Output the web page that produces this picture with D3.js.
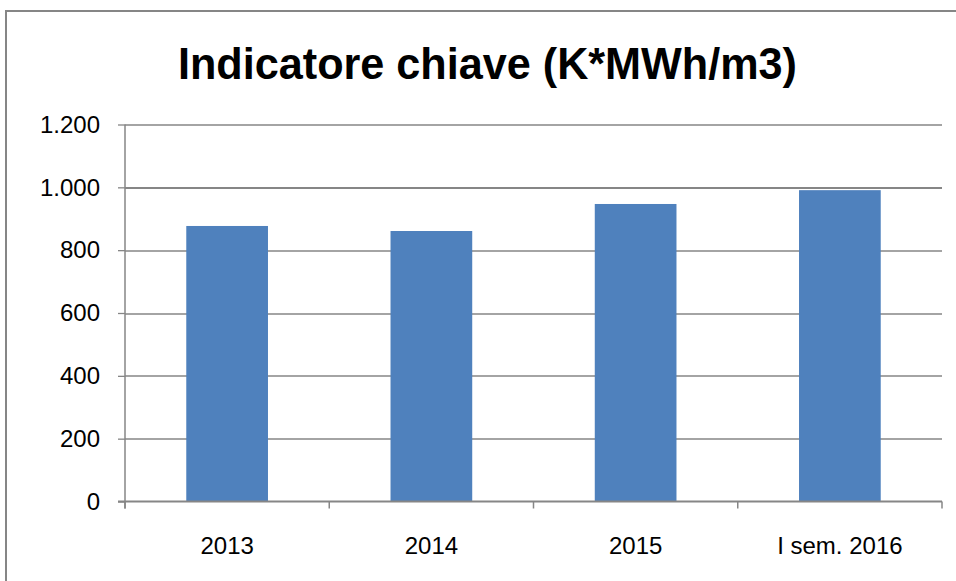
<!DOCTYPE html>
<html lang="it">
<head>
<meta charset="UTF-8">
<title>Indicatore chiave</title>
<script src="https://d3js.org/d3.v7.min.js"></script>
<style>
  body { margin: 0; background: #fff; }
  svg { display: block; font-family: "Liberation Sans", Arial, sans-serif; }
</style>
</head>
<body>
<div id="chart"></div>
<script>
// dati
var categories = ["2013", "2014", "2015", "I sem. 2016"];
var values = [877, 861, 947, 991];
var yTicks = [0, 200, 400, 600, 800, 1000, 1200];
var yTickLabels = ["0", "200", "400", "600", "800", "1.000", "1.200"];

var width = 956, height = 581;
var margin = {top: 124.5, right: 14, bottom: 79.5, left: 125};
var plotW = width - margin.left - margin.right;
var plotH = height - margin.top - margin.bottom;
var grey = "#868686";

var svg = d3.select("#chart").append("svg")
    .attr("width", width)
    .attr("height", height);

// cornice esterna
svg.append("rect")
    .attr("x", 6).attr("y", 11)
    .attr("width", width + 20).attr("height", height + 20)
    .attr("fill", "none")
    .attr("stroke", grey)
    .attr("stroke-width", 2);

svg.append("text")
    .attr("x", 487.5)
    .attr("y", 79)
    .attr("text-anchor", "middle")
    .attr("font-size", 45)
    .attr("font-weight", "bold")
    .attr("textLength", 619)
    .attr("lengthAdjust", "spacingAndGlyphs")
    .attr("fill", "#000")
    .text("Indicatore chiave (K*MWh/m3)");

var g = svg.append("g")
    .attr("transform", "translate(" + margin.left + "," + margin.top + ")");

var x = d3.scaleBand()
    .domain(categories)
    .range([0, plotW])
    .paddingInner(0.6)
    .paddingOuter(0.3);

var y = d3.scaleLinear()
    .domain([0, 1200])
    .range([plotH, 0]);

// griglia
g.selectAll(".grid")
    .data(yTicks.slice(1))
    .enter()
    .append("line")
    .attr("x1", 0)
    .attr("x2", plotW)
    .attr("y1", function(d) { return Math.round(y(d)) + 0.5; })
    .attr("y2", function(d) { return Math.round(y(d)) + 0.5; })
    .attr("stroke", grey)
    .attr("stroke-width", function(d) { return d === 1000 ? 2 : 1.3; });

g.selectAll(".bar")
    .data(values)
    .enter()
    .append("rect")
    .attr("x", function(d, i) { return x(categories[i]); })
    .attr("y", function(d) { return y(d); })
    .attr("width", x.bandwidth())
    .attr("height", function(d) { return plotH - y(d); })
    .attr("fill", "#4F81BD");

// asse y
var yAxis = g.append("g")
    .call(d3.axisLeft(y)
        .tickValues(yTicks)
        .tickSize(7)
        .tickPadding(18)
        .tickFormat(function(d, i) { return yTickLabels[i]; }));
yAxis.select(".domain").remove();
yAxis.selectAll(".tick line").attr("stroke", grey).attr("stroke-width", 1.3);
yAxis.selectAll("text").attr("font-size", 24).attr("fill", "#000")
    .attr("font-family", "Liberation Sans, Arial, sans-serif");
g.append("line")
    .attr("x1", 0).attr("x2", 0)
    .attr("y1", 0).attr("y2", plotH + 7)
    .attr("stroke", grey).attr("stroke-width", 1.5);

// asse x
var xAxis = g.append("g")
    .attr("transform", "translate(0," + plotH + ")")
    .call(d3.axisBottom(x).tickSize(0).tickPadding(35));
xAxis.select(".domain").remove();
xAxis.selectAll("text").attr("font-size", 24).attr("fill", "#000")
    .attr("font-family", "Liberation Sans, Arial, sans-serif");
g.append("line")
    .attr("x1", -7).attr("x2", plotW)
    .attr("y1", plotH).attr("y2", plotH)
    .attr("stroke", grey).attr("stroke-width", 2);

var step = x.step();
var bounds = d3.range(categories.length + 1).map(function(i) { return i * step; });
g.selectAll(".xtick")
    .data(bounds)
    .enter()
    .append("line")
    .attr("x1", function(d) { return d; })
    .attr("x2", function(d) { return d; })
    .attr("y1", plotH)
    .attr("y2", plotH + 7)
    .attr("stroke", grey)
    .attr("stroke-width", 1.5);
</script>
</body>
</html>
